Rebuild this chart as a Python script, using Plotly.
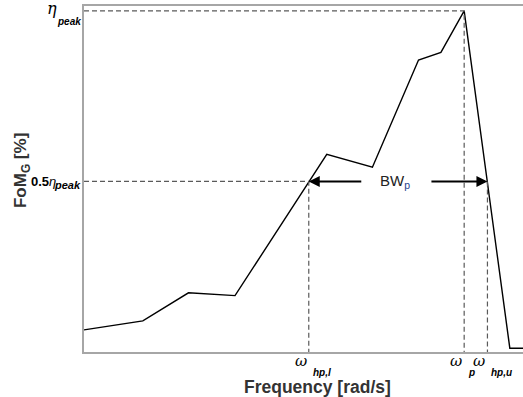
import plotly.graph_objects as go

# Data (normalized frequency axis 0-100, FoM_G in % of axis)
freq = [0, 13.4, 23.8, 34.4, 55.3, 65.7, 76.2, 81.3, 86.6, 97.0, 100]
fom = [6.4, 9.0, 17.1, 16.3, 57.1, 53.4, 84.4, 86.6, 98.6, 1.1, 1.1]

eta_peak = 98.6
half_level = 49.3
w_hpl = 51.2
w_p = 86.6
w_hpu = 91.9
bw_left_tail = 63.5
bw_right_tail = 78.8
bw_text_x = 70.8

FONT = "Arial, Liberation Sans, sans-serif"
DASH = dict(color="#5a5a5a", width=1.2, dash="5px,3px")

fig = go.Figure()
fig.add_trace(go.Scatter(x=freq, y=fom, mode="lines",
                         line=dict(color="black", width=1.4), showlegend=False,
                         hoverinfo="skip"))

# dashed guide lines
fig.add_trace(go.Scatter(x=[0, w_p, w_p], y=[eta_peak, eta_peak, 0], mode="lines",
                         line=DASH, showlegend=False, hoverinfo="skip"))
fig.add_trace(go.Scatter(x=[0, w_hpl, w_hpl], y=[half_level, half_level, 0], mode="lines",
                         line=DASH, showlegend=False, hoverinfo="skip"))
fig.add_trace(go.Scatter(x=[w_hpu, w_hpu], y=[half_level, 0], mode="lines",
                         line=DASH, showlegend=False, hoverinfo="skip"))

ann = []
# BW arrows
for head, tail in [(w_hpl, bw_left_tail), (w_hpu, bw_right_tail)]:
    ann.append(dict(x=head, y=half_level, ax=tail, ay=half_level, xref="x", yref="y",
                    axref="x", ayref="y", showarrow=True, arrowhead=2, arrowsize=1.1,
                    arrowwidth=2, arrowcolor="black", text=""))
ann.append(dict(x=bw_text_x, y=half_level, xref="x", yref="y", showarrow=False,
                text="BW<sub><span style='color:#1f3f8f'>p</span></sub>",
                font=dict(family=FONT, size=15, color="#222222")))

# x tick labels (omega)
for xv, sub in [(w_hpl, "hp,l"), (w_p, "p"), (w_hpu, "hp,u")]:
    ann.append(dict(x=xv, y=0, xref="x", yref="y", showarrow=False, xanchor="right",
                    yanchor="middle", xshift=0, yshift=-9, text="<i>ω</i>",
                    font=dict(family="DejaVu Serif, serif", size=15, color="black")))
    ann.append(dict(x=xv, y=0, xref="x", yref="y", showarrow=False, xanchor="left",
                    yanchor="middle", xshift=2, yshift=-20, text="<i><b>" + sub + "</b></i>",
                    font=dict(family=FONT, size=10, color="black")))

# y tick labels (eta)
ann.append(dict(x=0, y=eta_peak, xref="paper", yref="y", showarrow=False, xanchor="right",
                yanchor="middle", xshift=-25, yshift=2, text="<i>η</i>",
                font=dict(family="DejaVu Serif, serif", size=16, color="black")))
ann.append(dict(x=0, y=eta_peak, xref="paper", yref="y", showarrow=False, xanchor="right",
                yanchor="middle", xshift=-1, yshift=-11, text="<i><b>peak</b></i>",
                font=dict(family=FONT, size=10, color="black")))
ann.append(dict(x=0, y=half_level, xref="paper", yref="y", showarrow=False, xanchor="right",
                yanchor="middle", xshift=-26, yshift=0,
                text="<b>0.5</b><i>η</i>",
                font=dict(family=FONT, size=13, color="black")))
ann.append(dict(x=0, y=half_level, xref="paper", yref="y", showarrow=False, xanchor="right",
                yanchor="middle", xshift=-1, yshift=-4, text="<i><b>peak</b></i>",
                font=dict(family=FONT, size=11, color="black")))

# axis titles
ann.append(dict(x=0.533, y=0, xref="paper", yref="paper", showarrow=False,
                yanchor="middle", yshift=-35, text="<b>Frequency [rad/s]</b>",
                font=dict(family=FONT, size=17.5, color="#333333")))
ann.append(dict(x=0, y=0.523, xref="paper", yref="paper", showarrow=False,
                xanchor="center", xshift=-62, textangle=-90,
                text="<b>FoM<sub>G</sub> [%]</b>",
                font=dict(family=FONT, size=17, color="#333333")))

fig.update_layout(
    width=523, height=397,
    margin=dict(l=84, r=0, t=6, b=45),
    plot_bgcolor="white", paper_bgcolor="white",
    annotations=ann,
    xaxis=dict(range=[0, 100], showgrid=False, zeroline=False, showticklabels=False,
               ticks="", showline=True, linecolor="#a6a6a6", linewidth=1.5, mirror=True),
    yaxis=dict(range=[0, 100], showgrid=False, zeroline=False, showticklabels=False,
               ticks="", showline=True, linecolor="#a6a6a6", linewidth=1.8),
)

fig.write_html("out.html")
